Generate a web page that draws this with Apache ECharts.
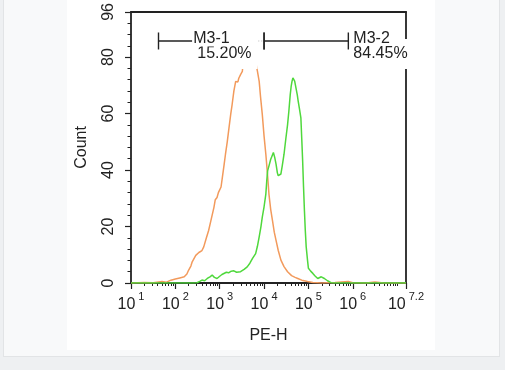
<!DOCTYPE html>
<html>
<head>
<meta charset="utf-8">
<script src="https://cdn.jsdelivr.net/npm/echarts@6/dist/echarts.min.js"></script>
<style>
  html, body { margin: 0; padding: 0; width: 505px; height: 370px; overflow: hidden; background: #eef0f2; }
  #card { position: absolute; left: 3px; top: -1px; width: 495px; height: 356px; background: #f8f9fa; border: 1px solid #e2e4e6; }
  #paper { position: absolute; left: 67px; top: 0; width: 368px; height: 350px; background: #ffffff; }
  #chart { position: absolute; left: 0; top: 0; width: 505px; height: 370px; }
</style>
</head>
<body>
<div id="card"></div>
<div id="paper"></div>
<div id="chart"></div>
<script>
// ---- Axis ticks (x in log10 decades of PE-H) ----
const xTickExponents = [1, 2, 3, 4, 5, 6, 7.2];
const yTickValues = [0, 20, 40, 60, 80, 96];

// ---- Control (orange) histogram: log10(PE-H), Count ----
const controlLog = [1.0, 1.3, 1.5, 1.7, 1.8, 1.9, 2.0, 2.1, 2.2, 2.26, 2.3, 2.35, 2.38, 2.42, 2.46, 2.49, 2.53, 2.56, 2.6, 2.64, 2.7, 2.75, 2.8, 2.87, 2.9, 2.94, 2.97, 3.0, 3.03, 3.06, 3.1, 3.13, 3.17, 3.21, 3.25, 3.28, 3.32, 3.36, 3.39, 3.41, 3.43, 3.47, 3.51, 3.53, 3.57, 3.63, 3.7, 3.76, 3.81, 3.85, 3.89, 3.92, 3.96, 4.0, 4.04, 4.08, 4.11, 4.15, 4.19, 4.23, 4.27, 4.32, 4.38, 4.45, 4.53, 4.62, 4.7, 4.76, 4.85, 4.98, 5.1, 5.3, 5.6, 5.9, 6.0, 6.3, 6.5, 6.7, 7.2];
const controlCount = [0, 0.2, 0.1, 0.5, 0.3, 1.0, 1.4, 1.8, 2.2, 3.2, 4.6, 6.0, 7.5, 8.2, 9.8, 9.2, 10.8, 10.4, 11.5, 12.8, 16, 18.6, 22, 26.8, 29.5, 30.3, 32, 31.5, 34, 37.4, 42, 45.6, 50, 55, 60, 63.2, 68, 71.4, 71.8, 71.2, 72.5, 73.8, 74.9, 78.4, 81, 82, 81.5, 80, 78.4, 75, 71.4, 66, 59.7, 52, 45.6, 38, 31.5, 26, 22.1, 18, 15.1, 11.5, 8.1, 5.8, 4, 2.6, 2.0, 1.6, 1.0, 0.5, 0.2, 0, 0.2, 0.5, 0.1, 0, 0.4, 0, 0];

// ---- Sample (green) histogram: log10(PE-H), Count ----
const sampleLog = [1.0, 2.4, 2.49, 2.55, 2.6, 2.66, 2.72, 2.78, 2.83, 2.88, 2.94, 3.0, 3.05, 3.09, 3.15, 3.2, 3.26, 3.32, 3.38, 3.47, 3.55, 3.62, 3.68, 3.74, 3.78, 3.81, 3.85, 3.89, 3.93, 3.96, 4.0, 4.04, 4.06, 4.08, 4.12, 4.15, 4.18, 4.21, 4.24, 4.27, 4.3, 4.32, 4.35, 4.38, 4.41, 4.45, 4.49, 4.53, 4.56, 4.59, 4.61, 4.63, 4.65, 4.67, 4.69, 4.72, 4.75, 4.77, 4.8, 4.83, 4.85, 4.87, 4.89, 4.91, 4.93, 4.95, 4.98, 5.0, 5.05, 5.1, 5.15, 5.21, 5.25, 5.29, 5.33, 5.36, 5.43, 5.51, 5.6, 7.2];
const sampleCount = [0, 0, 0.1, 0.6, 1.05, 0.8, 1.6, 2.2, 2.8, 2.0, 1.6, 2.4, 3.0, 3.4, 3.8, 3.6, 4.2, 4.3, 3.8, 4.0, 4.8, 5.7, 7.0, 8.7, 9.0, 10.4, 13, 16.3, 20, 23.3, 27, 31.5, 36, 39.7, 42, 43.8, 45, 46.2, 44.5, 42.1, 39, 38, 38.2, 38.6, 41.5, 45.6, 51, 56.1, 61, 66.7, 69.5, 71.4, 72.6, 72.8, 71.5, 69, 66.5, 64.3, 61.5, 58.5, 51, 43.2, 34, 25.7, 18.5, 12.8, 8, 5.2, 4.2, 3.4, 2.5, 1.6, 1.9, 2.2, 2.0, 1.6, 0.8, 0.1, 0, 0];

// ---- Marker gates ----
const gateNames = ['M3-1', 'M3-2'];
const gatePercents = ['15.20%', '84.45%'];
const gateStartLog = [1.62, 4.0];
const gateEndLog = [4.0, 5.9];
const gateLevel = 85.7;
const gateLabelMode = ['mid', 'end'];

// minor ticks
const xMinorTicks = [];
for (let n = 1; n <= 6; n++) {
  for (let k = 2; k <= 9; k++) xMinorTicks.push(Math.log10(k * Math.pow(10, n)));
}
xMinorTicks.push(7);
const yMinorTicks = [];
for (let v = 4; v < 96; v += 4) if (yTickValues.indexOf(v) < 0) yMinorTicks.push(v);

const FONT = '"Liberation Sans", Arial, sans-serif';
const INK = '#222222';

const chart = echarts.init(document.getElementById('chart'), null, { renderer: 'canvas' });

const controlData = controlLog.map((x, i) => [x, controlCount[i]]);
const sampleData = sampleLog.map((x, i) => [x, sampleCount[i]]);
const gateData = gateNames.map((n, i) => [gateStartLog[i], gateEndLog[i], gateLevel, i]);

function renderGate(params, api) {
  const i = api.value(3);
  const p0 = api.coord([api.value(0), api.value(2)]);
  const p1 = api.coord([api.value(1), api.value(2)]);
  const y = p0[1];
  const cap = 8.5;
  const lineStyle = { stroke: INK, lineWidth: 1.4 };
  const children = [];
  const mode = gateLabelMode[i];
  let textX;
  if (mode === 'mid') {
    textX = (p0[0] + p1[0]) / 2 - 19;
    children.push({ type: 'line', shape: { x1: p0[0], y1: y, x2: textX, y2: y }, style: lineStyle });
    children.push({ type: 'line', shape: { x1: textX + 36, y1: y, x2: p1[0], y2: y }, style: { stroke: '#b8b8b8', lineWidth: 1, lineDash: [1, 2] } });
  } else {
    textX = p1[0] + 4;
    children.push({ type: 'line', shape: { x1: p0[0], y1: y, x2: p1[0], y2: y }, style: lineStyle });
  }
  children.push({ type: 'line', shape: { x1: p0[0], y1: y - cap, x2: p0[0], y2: y + cap }, style: lineStyle });
  children.push({ type: 'line', shape: { x1: p1[0], y1: y - cap, x2: p1[0], y2: y + cap }, style: lineStyle });
  children.push({
    type: 'text',
    style: { text: gatePercents[i], x: textX + (mode === 'mid' ? 4 : 0), y: y + 13, fontSize: 16, fontFamily: FONT, fill: INK,
      align: 'left', verticalAlign: 'middle', backgroundColor: '#ffffff', padding: [3, 6, 11, 1] }
  });
  children.push({
    type: 'text',
    style: { text: gateNames[i], x: textX, y: y - 2.5, fontSize: 16, fontFamily: FONT, fill: INK,
      align: 'left', verticalAlign: 'middle', backgroundColor: mode === 'mid' ? '#ffffff' : 'transparent', padding: [0, 1, 0, 1] }
  });
  return { type: 'group', children: children };
}

const frameAxis = (pos) => ({
  type: 'value', min: pos === 'top' || pos === 'bottom' ? 1 : 0, max: pos === 'top' || pos === 'bottom' ? 7.2 : 96,
  position: pos,
  axisLine: { show: true, onZero: false, lineStyle: { color: INK, width: 1.8 } },
  axisTick: { show: false }, axisLabel: { show: false }, splitLine: { show: false }
});

const option = {
  animation: false,
  backgroundColor: 'transparent',
  textStyle: { fontFamily: FONT },
  grid: { left: 131, right: 99, top: 10, bottom: 87, show: false },
  xAxis: [
    {
      type: 'value', min: 1, max: 7.2,
      name: 'PE-H', nameLocation: 'middle', nameGap: 45,
      nameTextStyle: { fontSize: 16, color: INK, fontFamily: FONT },
      axisLine: { show: true, onZero: false, lineStyle: { color: INK, width: 1.8 } },
      axisTick: { show: true, customValues: xTickExponents, length: 6, lineStyle: { color: INK, width: 1.2 } },
      axisLabel: {
        show: true, customValues: xTickExponents, margin: 8.5, color: INK,
        formatter: v => '{b|10}{s|' + v + '}',
        rich: {
          b: { fontSize: 16, lineHeight: 27, fontFamily: FONT, color: INK, verticalAlign: 'middle' },
          s: { fontSize: 11, lineHeight: 13, fontFamily: FONT, color: INK, verticalAlign: 'top', padding: [0, 0, 0, 3] }
        }
      },
      splitLine: { show: false }
    },
    {
      type: 'value', min: 1, max: 7.2, position: 'bottom',
      axisLine: { show: false },
      axisTick: { show: true, customValues: xMinorTicks, length: 3, lineStyle: { color: INK, width: 1 } },
      axisLabel: { show: false },
      splitLine: { show: false }
    },
    frameAxis('top')
  ],
  yAxis: [
    {
      type: 'value', min: 0, max: 96,
      name: 'Count', nameLocation: 'middle', nameGap: 41, nameRotate: 90,
      nameTextStyle: { fontSize: 16, color: INK, fontFamily: FONT },
      axisLine: { show: true, onZero: false, lineStyle: { color: INK, width: 1.8 } },
      axisTick: { show: true, customValues: yTickValues, length: 6, lineStyle: { color: INK, width: 1.2 } },
      axisLabel: { show: true, customValues: yTickValues, rotate: 90, margin: 14, fontSize: 16, color: INK, fontFamily: FONT },
      splitLine: { show: false }
    },
    {
      type: 'value', min: 0, max: 96, position: 'left',
      axisLine: { show: false },
      axisTick: { show: true, customValues: yMinorTicks, length: 3.5, lineStyle: { color: INK, width: 1 } },
      axisLabel: { show: false },
      splitLine: { show: false }
    },
    frameAxis('right')
  ],
  series: [
    {
      name: 'Control', type: 'line', xAxisIndex: 0, yAxisIndex: 0, data: controlData,
      showSymbol: false, smooth: false, z: 2,
      lineStyle: { color: '#f29a5c', width: 1.5 }
    },
    {
      name: 'Sample', type: 'line', xAxisIndex: 0, yAxisIndex: 0, data: sampleData,
      showSymbol: false, smooth: false, z: 3,
      lineStyle: { color: '#4fd83c', width: 1.5 }
    },
    {
      name: 'Gates', type: 'custom', xAxisIndex: 0, yAxisIndex: 0, data: gateData,
      renderItem: renderGate, encode: { x: [0, 1], y: 2 }, clip: false, z: 10, silent: true
    }
  ]
};
chart.setOption(option);
</script>
</body>
</html>
